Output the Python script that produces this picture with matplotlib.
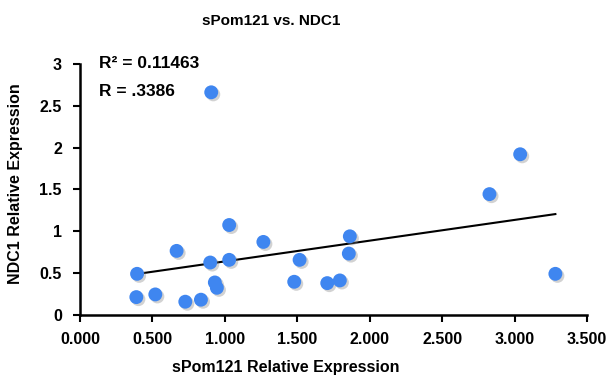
import numpy as np
import matplotlib
matplotlib.use("Agg")
import matplotlib.pyplot as plt
import matplotlib.patheffects as pe

plt.rcParams['font.family'] = ['Liberation Sans', 'DejaVu Sans']
plt.rcParams['font.weight'] = 'bold'

# valores
spom121 = [0.906, 1.030, 1.266, 0.667, 0.899, 1.030, 1.516, 0.394, 0.931, 0.945, 1.479,
           1.707, 1.794, 0.389, 0.520, 0.727, 0.835, 1.863, 1.856, 2.827, 3.039, 3.282]
ndc1 = [2.66, 1.075, 0.873, 0.766, 0.627, 0.659, 0.659, 0.492, 0.389, 0.325, 0.397,
        0.381, 0.413, 0.214, 0.246, 0.159, 0.183, 0.940, 0.734, 1.444, 1.920, 0.492]
xticks = [0, 0.5, 1.0, 1.5, 2.0, 2.5, 3.0, 3.5]
yticks = [0, 0.5, 1, 1.5, 2, 2.5, 3]

x = np.array(spom121)
y = np.array(ndc1)

fig = plt.figure(figsize=(6.13, 3.8), dpi=100)
ax = fig.add_axes([0.1305, 0.171, 0.827, 0.661])

pts = ax.scatter(x, y, s=100, color="#3f86f0", zorder=3, linewidths=0)
pts.set_path_effects([pe.SimplePatchShadow(offset=(1.5, -1.5), shadow_rgbFace="gray", alpha=0.35),
                      pe.Normal()])

# linha de tendência
a, b = np.polyfit(x, y, 1)
xl = np.array([x.min(), x.max()])
ax.plot(xl, a * xl + b, color="black", lw=1.5, zorder=2)

ax.set_xlim(0, 3.5)
ax.set_ylim(0, 3)
ax.set_xticks(xticks)
ax.set_xticklabels(["%.3f" % t for t in xticks])
ax.set_yticks(yticks)
ax.set_yticklabels([("%g" % t) for t in yticks])
ax.tick_params(direction="out", length=5, width=1.5, labelsize=11.5)
ax.tick_params(axis="x", pad=7)
ax.tick_params(axis="y", pad=8)
for s in ["top", "right"]:
    ax.spines[s].set_visible(False)
for s in ["left", "bottom"]:
    ax.spines[s].set_linewidth(1.8)
ax.spines["bottom"].set_zorder(1)

ax.text(0.0375, 1.0, "R² = 0.11463", transform=ax.transAxes, fontsize=12.5,
        fontweight="bold", va="center", ha="left")
ax.text(0.0375, 0.888, "R = .3386", transform=ax.transAxes, fontsize=12.5,
        fontweight="bold", va="center", ha="left")

fig.text(0.442, 0.945, "sPom121 vs. NDC1", fontsize=11, fontweight="bold", ha="center", va="center")
fig.text(0.466, 0.032, "sPom121 Relative Expression", fontsize=11.5, fontweight="bold",
         ha="center", va="center")
fig.text(0.0245, 0.518, "NDC1 Relative Expression", fontsize=11.5, fontweight="bold",
         ha="center", va="center", rotation=90)

plt.savefig("out.png", dpi=100)
